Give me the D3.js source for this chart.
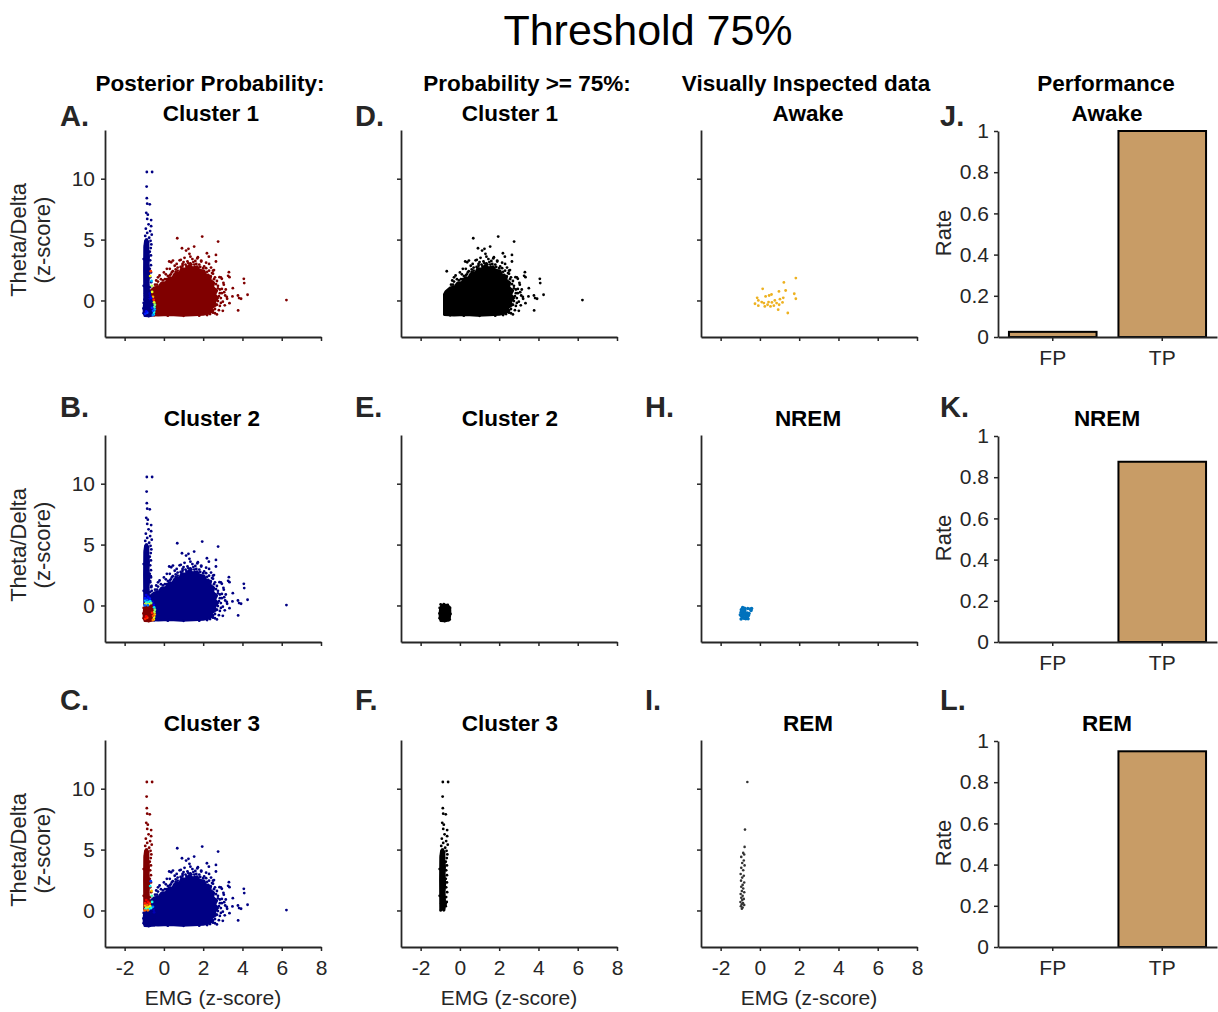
<!DOCTYPE html>
<html>
<head>
<meta charset="utf-8">
<script src="https://cdn.jsdelivr.net/npm/d3@7"></script>
<style>
  body { margin: 0; background: #fff; }
  text { font-family: "Liberation Sans", Arial, Helvetica, sans-serif; }
</style>
</head>
<body>
<svg id="fig" width="1218" height="1012"></svg>
<script>
// ---------- tick labels ----------
const emgTicks = [-2, 0, 2, 4, 6, 8];
const tdTicks = [0, 5, 10];
const rateTicks = [0, 0.2, 0.4, 0.6, 0.8, 1];

// ---------- performance rates ----------
const rateCategories = ["FP", "TP"];
const awakeRates = [0.025, 1.0];
const nremRates = [0, 0.875];
const remRates = [0, 0.95];

// ---------- EMG / Theta-Delta epochs (z-scores) ----------
// Solid, saturated part of each cluster: outline of the region where points overlap completely.
const wakeCore = [[-0.8,-1.18],[-0.3,-1.22],[0.3,-1.18],[0.9,-1.23],[1.5,-1.2],[2.0,-1.16],[2.3,-1.05],[2.5,-0.85],[2.45,-0.6],[2.65,-0.4],[2.6,-0.1],[2.75,0.2],[2.6,0.5],[2.7,0.8],[2.5,1.1],[2.55,1.45],[2.35,1.7],[2.4,2.0],[2.15,2.1],[2.05,2.45],[1.8,2.5],[1.7,2.8],[1.45,2.7],[1.3,2.9],[1.1,2.6],[0.9,2.65],[0.8,2.3],[0.55,2.2],[0.45,1.9],[0.25,1.85],[0.1,1.5],[-0.15,1.4],[-0.25,1.15],[-0.5,1.05],[-0.72,0.75],[-0.8,0.5]];
const nremCore = [[-0.98,-1.25],[-0.75,-1.28],[-0.58,-1.22],[-0.52,-1.0],[-0.5,-0.7],[-0.5,-0.35],[-0.54,-0.1],[-0.65,0.03],[-0.8,0.07],[-0.93,0.0],[-1.0,-0.25],[-1.02,-0.6],[-1.02,-1.0]];
const remCore = [[-0.99,0.1],[-0.79,0.1],[-0.77,0.8],[-0.79,1.5],[-0.76,2.2],[-0.79,3.0],[-0.77,3.6],[-0.8,4.2],[-0.8,4.7],[-0.86,5.0],[-0.95,4.9],[-0.99,4.4],[-1.0,2.5]];

// Individual epochs around the dense parts
const wakePts = [[-0.45,1.3],[-0.3,1.55],[-0.1,1.45],[0.05,1.75],[0.2,2.0],[0.35,2.15],[0.45,2.4],[0.6,2.35],[0.7,2.7],[0.85,2.75],[0.95,3.0],[1.1,2.95],[1.2,3.2],[1.35,3.05],[1.5,3.15],[1.45,3.4],[1.65,3.0],[1.8,2.95],[1.9,3.2],[2.05,2.8],[2.15,2.65],[2.3,2.45],[2.4,2.7],[2.5,2.2],[2.6,1.9],[2.7,1.6],[2.75,1.2],[2.85,0.9],[2.95,0.6],[2.9,0.2],[3.0,-0.1],[2.85,-0.45],[2.8,-0.8],[2.6,-1.05],[2.35,-1.12],[1.8,-1.25],[1.0,-1.26],[0.2,-1.25],[-0.5,-1.22],[0.3,2.6],[0.55,2.85],[0.8,3.3],[1.05,3.5],[1.7,3.45],[2.3,3.0],[2.55,2.5],[2.9,1.9],[3.05,1.3],[3.15,0.9],[3.2,0.3],[3.1,-0.4],[3.0,-0.85],[2.7,-1.15],[-0.3,1.9],[0.0,2.3],[0.15,2.6],[0.6,2.55],[0.4,2.3],[0.95,2.85],[1.0,3.15],[1.25,3.05],[1.4,2.95],[1.55,2.95],[1.6,3.25],[1.85,2.75],[2.0,2.65],[2.2,2.35],[2.25,2.1],[2.45,2.25],[2.55,1.75],[2.65,1.35],[2.75,1.0],[2.85,0.6],[2.8,0.35],[2.75,-0.05],[2.7,-0.35],[2.6,-0.7],[2.5,-1.0],[2.2,-1.2],[-0.05,1.65],[0.15,1.75],[-0.35,1.3],[0.3,2.05],[0.7,2.45],[1.15,2.8],[1.95,2.35],[2.35,1.45],[2.9,-0.2],[2.95,0.95],[2.5,2.45],[2.15,3.1],[1.35,3.6],[0.65,3.0],[0.1,2.15],[-0.15,1.75],[0.68,5.11],[1.95,5.25],[2.76,4.84],[1.54,4.43],[0.92,4.29],[2.19,3.88],[2.65,3.74],[2.65,3.2],[0.27,3.2],[0.37,3.14],[0.46,3.28],[0.86,3.34],[1.13,4.1],[1.25,4.24],[1.3,3.83],[1.73,3.55],[1.9,3.28],[2.29,3.6],[3.27,2.02],[3.31,2.32],[3.34,1.91],[2.83,1.91],[2.95,1.78],[3.03,1.45],[4.07,1.78],[4.09,1.43],[3.51,1.01],[3.07,0.68],[4.26,0.47],[3.83,0.2],[3.49,0.33],[3.77,0.41],[3.93,0.14],[3.22,0.14],[3.12,0.41],[3.34,-0.22],[3.78,-0.82],[2.49,-0.82],[6.24,0.03],[-0.22,2.05],[-0.39,1.64]];
const nremPts = [[-1.03,-0.2],[-0.98,0.08],[-0.82,0.1],[-0.62,0.04],[-0.5,-0.2],[-0.48,-0.7],[-0.52,-1.15],[-0.78,-1.28],[-1.03,-1.05],[-1.04,-0.65]];
const remPts = [[-0.87,10.55],[-0.6,10.55],[-0.88,9.35],[-0.87,8.4],[-0.85,7.95],[-0.72,7.9],[-0.9,7.2],[-0.82,7.05],[-0.85,6.7],[-0.65,6.6],[-0.78,6.25],[-0.65,6.1],[-0.92,5.9],[-0.7,5.7],[-0.85,5.55],[-0.62,5.4],[-0.95,5.3],[-0.75,5.15],[-0.9,5.0],[-0.68,4.9],[-0.8,4.8],[-0.64,4.6],[-0.95,4.5],[-0.67,4.3],[-0.72,4.0],[-0.66,3.7],[-0.7,3.3],[-0.66,2.9],[-0.72,2.6],[-0.66,2.3],[-0.7,1.9],[-0.65,1.5],[-0.7,1.1],[-0.67,0.7],[-0.72,0.35],[-1.03,1.2],[-1.03,3.4]];

// Posterior probability [cluster 1, cluster 2, cluster 3] of each group
const wakePosterior = [1, 0, 0];
const nremPosterior = [0, 1, 0];
const remPosterior = [0, 0, 1];

// Boundary epochs with mixed posteriors: [EMG, Theta/Delta, p1, p2, p3]
const mixedPts = [
  [-0.52,-1.15,0.35,0.65,0],[-0.5,-0.95,0.4,0.6,0],[-0.47,-0.75,0.3,0.7,0],[-0.49,-0.55,0.45,0.55,0],
  [-0.46,-0.35,0.5,0.5,0],[-0.5,-0.15,0.6,0.35,0.05],[-0.52,0.05,0.85,0.1,0.05],[-0.56,0.3,0.7,0.05,0.25],
  [-0.6,0.7,0.6,0,0.4],[-0.62,1.2,0.55,0,0.45],[-0.63,1.6,0.3,0,0.7],[-0.7,2.0,0.62,0,0.38],
  [-0.67,2.4,0.82,0,0.18],[-0.56,-1.2,0.25,0.75,0],[-0.55,-0.85,0.2,0.8,0],[-0.6,-0.6,0.15,0.85,0],
  [-0.95,-1.1,0.15,0.85,0],[-0.85,-1.0,0.18,0.82,0],[-0.9,-0.9,0.12,0.88,0],
  [-0.95,0.1,0,0.65,0.35],[-0.85,0.15,0,0.6,0.4],[-0.75,0.12,0.05,0.6,0.35],[-0.9,0.25,0,0.45,0.55],
  [-0.8,0.3,0,0.4,0.6],[-0.7,0.35,0.05,0.35,0.6],[-0.95,0.4,0,0.3,0.7],[-0.85,0.45,0,0.22,0.78],
  [-0.65,0.2,0.1,0.5,0.4],[-0.95,0.6,0,0.15,0.85],[-0.8,0.7,0,0.12,0.88],[-0.9,0.85,0,0.1,0.9],
  [-0.72,0.55,0.05,0.15,0.8],[-0.98,0.0,0,0.22,0.78],[-0.82,0.02,0,0.24,0.76]
];

// Visually scored epochs
const inspectedAwake = [[1.83,1.84],[1.22,1.48],[0.14,0.96],[1.31,0.82],[0.97,0.74],[0.59,0.49],[0.47,0.41],[0.29,0.33],[1.75,0.55],[1.83,0.14],[-0.14,0.22],[-0.08,0.0],[1.19,0.22],[1.02,0.11],[0.76,0.0],[0.61,-0.16],[0.44,-0.13],[0.2,-0.21],[0.09,-0.13],[-0.25,-0.27],[-0.08,-0.43],[0.25,-0.49],[0.54,-0.49],[0.71,-0.43],[0.98,-0.35],[1.15,-0.16],[0.93,-0.76],[1.42,-1.03],[0.39,-0.35],[0.85,-0.21]];
const inspectedNrem = [[-0.95,-0.35],[-0.9,-0.28],[-0.84,-0.45],[-0.96,-0.55],[-0.8,-0.62],[-0.9,-0.7],[-0.74,-0.76],[-0.95,-0.86],[-0.85,-0.9],[-0.7,-0.92],[-0.9,-1.02],[-0.8,-1.06],[-0.64,-1.0],[-0.96,-1.12],[-0.72,-1.1],[-0.58,-0.82],[-0.55,-0.66],[-0.45,-0.42],[-0.5,-0.28],[-0.62,-0.25],[-0.76,-0.38],[-0.88,-0.16],[-0.64,-0.62],[-0.78,-0.22],[-0.42,-0.25],[-1.0,-0.76],[-0.86,-0.6],[-0.76,-0.55],[-0.68,-0.78],[-0.6,-1.1],[-0.82,-0.78],[-0.92,-0.46]];
const inspectedRem = [[-0.64,10.55],[-0.76,6.64],[-0.78,5.22],[-0.85,4.73],[-0.8,4.6],[-0.95,4.4],[-0.82,4.1],[-0.9,3.9],[-0.78,3.7],[-0.95,3.5],[-0.85,3.3],[-0.98,3.0],[-0.82,2.85],[-0.9,2.7],[-0.96,2.45],[-0.8,2.3],[-0.88,2.1],[-0.95,1.95],[-0.85,1.8],[-0.92,1.6],[-0.8,1.5],[-0.98,1.35],[-0.88,1.2],[-0.95,1.05],[-0.82,0.95],[-0.9,0.85],[-0.99,0.7],[-0.86,0.6],[-0.93,0.5],[-0.8,0.45],[-0.97,0.35],[-0.88,0.25],[-0.92,0.15]];

// ---------- figure ----------
const svg = d3.select("#fig");
const INK = "#262626";
const TICK_FS = 21;
const colX = [105, 401, 701];
const scatterW = 216;
const rowTop = [130, 435, 740];
const plotH = 207;
const barX0 = 998, barW = 219;

// MATLAB jet colormap
const jet = d3.scaleLinear()
  .domain([0, 0.125, 0.375, 0.625, 0.875, 1])
  .range(["#000084", "#0000ff", "#00ffff", "#ffff00", "#ff0000", "#800000"])
  .clamp(true);

const clusters = [
  { core: wakeCore, pts: wakePts, post: wakePosterior },
  { core: nremCore, pts: nremPts, post: nremPosterior },
  { core: remCore, pts: remPts, post: remPosterior }
];

function styleAxis(g, fs) {
  g.attr("font-family", null).attr("font-size", null);
  g.select(".domain").attr("stroke", INK).attr("stroke-width", 1.8);
  g.selectAll(".tick line").attr("stroke", INK).attr("stroke-width", 1.5);
  g.selectAll(".tick text").attr("fill", INK).style("font-size", fs + "px");
}

function scatterPanel(col, row) {
  const x = d3.scaleLinear([-3, 8], [colX[col], colX[col] + scatterW]);
  const y = d3.scaleLinear([-3, 14], [rowTop[row] + plotH, rowTop[row]]);
  const g = svg.append("g");
  const plot = g.append("g");
  const area = d3.line().x(d => x(d[0])).y(d => y(d[1])).curve(d3.curveLinearClosed);

  function drawPts(pts, color, r) {
    plot.selectAll(null).data(pts).join("circle")
      .attr("cx", d => x(d[0])).attr("cy", d => y(d[1])).attr("r", r).attr("fill", color);
  }
  function drawGroup(core, pts, color) {
    plot.append("path").attr("d", area(core)).attr("fill", color)
      .attr("stroke", color).attr("stroke-width", 2.4).attr("stroke-linejoin", "round");
    drawPts(pts, color, 1.4);
  }

  if (col === 0) {
    clusters.forEach(c => drawGroup(c.core, c.pts, jet(c.post[row])));
    plot.selectAll(null).data(mixedPts).join("circle")
      .attr("cx", d => x(d[0])).attr("cy", d => y(d[1])).attr("r", 1.4)
      .attr("fill", d => jet(d[2 + row]));
  } else if (col === 1) {
    clusters.filter(c => c.post[row] >= 0.75).forEach(c => drawGroup(c.core, c.pts, "#000"));
    drawPts(mixedPts.filter(d => d[2 + row] >= 0.75), "#000", 1.4);
  } else {
    if (row === 0) drawPts(inspectedAwake, "#EDB120", 1.4);
    if (row === 1) drawPts(inspectedNrem, "#0072BD", 1.7);
    if (row === 2) drawPts(inspectedRem, "#333333", 1.3);
  }

  const ay = g.append("g").attr("transform", `translate(${colX[col]},0)`)
    .call(d3.axisLeft(y).tickValues(tdTicks).tickSize(4).tickSizeOuter(0).tickPadding(6)
      .tickFormat(col === 0 ? d => String(d) : () => ""));
  styleAxis(ay, TICK_FS);
  const ax = g.append("g").attr("transform", `translate(0,${rowTop[row] + plotH})`)
    .call(d3.axisBottom(x).tickValues(emgTicks).tickSize(4).tickSizeOuter(0).tickPadding(9)
      .tickFormat(row === 2 ? d => String(d) : () => ""));
  styleAxis(ax, TICK_FS);

  if (col === 0) {
    const cy = rowTop[row] + 110;
    g.append("text").attr("transform", `translate(18,${cy}) rotate(-90)`)
      .attr("text-anchor", "middle").attr("dy", "0.35em").attr("fill", INK)
      .style("font-size", "22px").text("Theta/Delta");
    g.append("text").attr("transform", `translate(42,${cy}) rotate(-90)`)
      .attr("text-anchor", "middle").attr("dy", "0.35em").attr("fill", INK)
      .style("font-size", "22px").text("(z-score)");
  }
  if (row === 2) {
    g.append("text").attr("x", colX[col] + scatterW / 2).attr("y", 1005)
      .attr("text-anchor", "middle").attr("fill", INK).style("font-size", "21px")
      .text("EMG (z-score)");
  }
}

function barPanel(row, values) {
  const top = rowTop[row];
  const x = d3.scaleBand(rateCategories, [barX0, barX0 + barW]).paddingInner(0.2).paddingOuter(0.1);
  const y = d3.scaleLinear([0, 1], [top + plotH, top + 1]);
  const g = svg.append("g");
  g.selectAll(null).data(rateCategories.map((c, i) => ({ c, v: values[i] }))).join("rect")
    .attr("x", d => x(d.c)).attr("width", x.bandwidth())
    .attr("y", d => y(d.v)).attr("height", d => y(0) - y(d.v))
    .attr("fill", "#C89C66").attr("stroke", "#000").attr("stroke-width", 2);
  const ay = g.append("g").attr("transform", `translate(${barX0},0)`)
    .call(d3.axisLeft(y).tickValues(rateTicks).tickSize(4).tickSizeOuter(0).tickPadding(5)
      .tickFormat(d => String(d)));
  styleAxis(ay, TICK_FS);
  const ax = g.append("g").attr("transform", `translate(0,${top + plotH})`)
    .call(d3.axisBottom(x).tickSize(4).tickSizeOuter(0).tickPadding(9));
  styleAxis(ax, TICK_FS);
  g.append("text").attr("transform", `translate(943,${top + 103}) rotate(-90)`)
    .attr("text-anchor", "middle").attr("dy", "0.35em").attr("fill", INK)
    .style("font-size", "22px").text("Rate");
}

for (let col = 0; col < 3; col++) for (let row = 0; row < 3; row++) scatterPanel(col, row);
barPanel(0, awakeRates);
barPanel(1, nremRates);
barPanel(2, remRates);

// ---------- titles ----------
svg.append("text").attr("x", 648).attr("y", 30).attr("dy", "0.35em").attr("text-anchor", "middle")
  .style("font-size", "43px").attr("fill", "#000").text("Threshold 75%");

const heads = [
  [210, 83, "Posterior Probability:"], [211, 113, "Cluster 1"],
  [527, 83, "Probability >= 75%:"], [510, 113, "Cluster 1"],
  [806, 83, "Visually Inspected data"], [808, 113, "Awake"],
  [1106, 83, "Performance"], [1107, 113, "Awake"],
  [212, 418, "Cluster 2"], [510, 418, "Cluster 2"], [808, 418, "NREM"], [1107, 418, "NREM"],
  [212, 723, "Cluster 3"], [510, 723, "Cluster 3"], [808, 723, "REM"], [1107, 723, "REM"]
];
svg.selectAll(null).data(heads).join("text")
  .attr("x", d => d[0]).attr("y", d => d[1]).attr("dy", "0.35em").attr("text-anchor", "middle")
  .style("font-size", "22.5px").style("font-weight", "bold").attr("fill", "#000").text(d => d[2]);

const letters = [
  [60, 126, "A."], [355, 126, "D."], [940, 126, "J."],
  [60, 417, "B."], [355, 417, "E."], [645, 417, "H."], [940, 417, "K."],
  [60, 710, "C."], [355, 710, "F."], [645, 710, "I."], [940, 710, "L."]
];
svg.selectAll(null).data(letters).join("text")
  .attr("x", d => d[0]).attr("y", d => d[1])
  .style("font-size", "29px").style("font-weight", "bold").attr("fill", INK).text(d => d[2]);
</script>
</body>
</html>
